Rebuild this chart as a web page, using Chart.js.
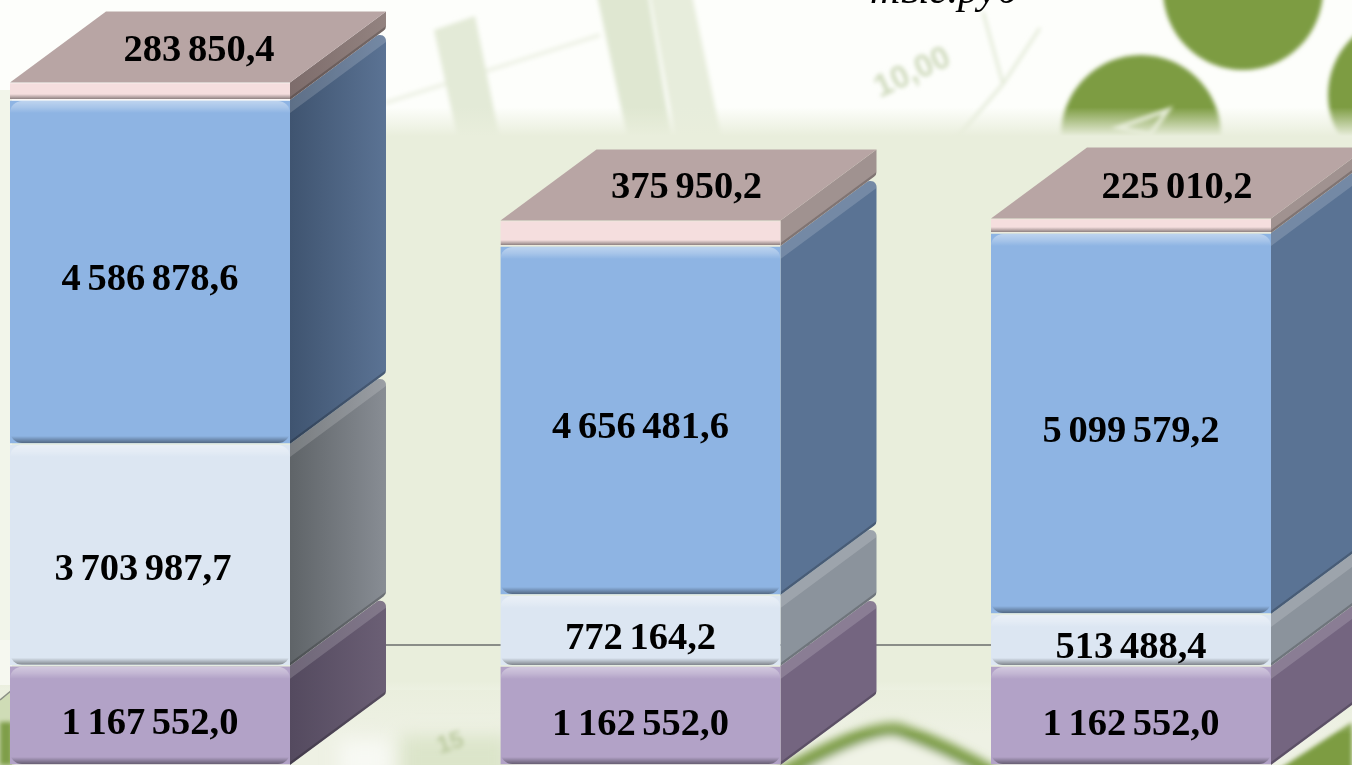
<!DOCTYPE html>
<html>
<head>
<meta charset="utf-8">
<style>
  html, body { margin: 0; padding: 0; width: 1352px; height: 765px; overflow: hidden; background: #fff; }
  #bg { position: absolute; left: 0; top: 0; }
  #chart { position: absolute; left: 0; top: 0; }
</style>
<script src="https://cdn.jsdelivr.net/npm/chart.js@4"></script>
</head>
<body>
<svg id="bg" width="1352" height="765" viewBox="0 0 1352 765">
  <defs>
    <filter id="soft" filterUnits="userSpaceOnUse" x="-50" y="-50" width="1452" height="865"><feGaussianBlur stdDeviation="2"/></filter>
    <filter id="mid" filterUnits="userSpaceOnUse" x="-50" y="-50" width="1452" height="865"><feGaussianBlur stdDeviation="4"/></filter>
    <filter id="softer" filterUnits="userSpaceOnUse" x="-50" y="-50" width="1452" height="865"><feGaussianBlur stdDeviation="9"/></filter>
    <linearGradient id="band" x1="0" y1="0" x2="0" y2="765" gradientUnits="userSpaceOnUse">
      <stop offset="0.14" stop-color="#e9eedc" stop-opacity="0"/>
      <stop offset="0.178" stop-color="#e9eedc"/>
      <stop offset="0.89" stop-color="#e9eedc"/>
      <stop offset="0.96" stop-color="#e9eedc" stop-opacity="0"/>
    </linearGradient>
  </defs>
  <rect width="1352" height="765" fill="#fdfefb"/>
  <!-- top photo -->
  <g filter="url(#soft)">
    <path d="M385 103 L600 35" stroke="#eef2e6" stroke-width="4"/>
    <path d="M434 30 L475 16 L500 140 L458 140 Z" fill="#e3ead7"/>
    <path d="M597 -5 L648 -5 L672 140 L628 140 Z" fill="#dfe7d1"/>
    <path d="M650 -5 L692 -5 L722 140 L676 140 Z" fill="#e7eddc"/>
    <path d="M983 12 L1003 84 M1003 84 L1040 28 M1003 84 L955 140" stroke="#e3ead8" stroke-width="3" fill="none"/>
    <text x="0" y="0" transform="translate(880,98) rotate(-25)" font-family="Liberation Sans" font-weight="bold" font-size="32" fill="#cfdabd">10,00</text>
  </g>
  <g fill="#7d9c42" filter="url(#soft)">
    <circle cx="1243" cy="-10" r="80"/>
    <circle cx="1141" cy="135" r="80"/>
    <circle cx="1408" cy="95" r="80"/>
  </g>
  <path d="M1118 128 L1168 110 L1150 135 Z" fill="none" stroke="#e4ebd6" stroke-width="4" filter="url(#soft)"/>
  <!-- bottom photo -->
  <rect x="0" y="690" width="1352" height="75" fill="#eef1e4"/>
  <rect x="400" y="735" width="110" height="50" fill="#dce5ca" filter="url(#softer)"/>
  <rect x="340" y="740" width="50" height="40" fill="#f8f9f4" filter="url(#softer)"/>
  <path d="M780 775 Q875 722 900 730 Q950 748 995 775" fill="#f0f3e6" stroke="#7f9f48" stroke-width="15" filter="url(#mid)"/>
  <path d="M1270 775 L1352 722 L1352 775 Z" fill="#7d9c42" filter="url(#soft)"/>
  <text x="0" y="0" transform="translate(440,754) rotate(-18)" font-family="Liberation Sans" font-size="24" font-weight="bold" fill="#bccaa0" filter="url(#soft)">15</text>
  <rect x="0" y="0" width="1352" height="765" fill="url(#band)"/>
  <!-- left edge -->
  <rect x="0" y="640" width="12" height="45" fill="#f6f8f0"/>
  <path d="M0 700 L12 690 L12 765 L0 765 Z" fill="#cfdcb6"/>
  <rect x="0" y="722" width="12" height="43" fill="#7f9e48" filter="url(#soft)"/>
  <rect x="0" y="90" width="12" height="550" fill="#f2f5ea"/>
  <path d="M0 700 L12 690" stroke="#8a8f85" stroke-width="1.5"/>
</svg>
<canvas id="chart" width="1352" height="765"></canvas>
<script>
const categories = ["A", "B", "C"];
const seriesBase = [1167552.0, 1162552.0, 1162552.0];
const seriesLight = [3703987.7, 772164.2, 513488.4];
const seriesBlue = [4586878.6, 4656481.6, 5099579.2];
const seriesTop = [283850.4, 375950.2, 225010.2];
const unitLabel = "тыс.руб";

// the source picture is not drawn to a linear axis, so the y axis is piecewise:
// [stack total, pixel row]
const axisKnots = [
  [0, 765], [1162552, 666], [1167552, 665.8], [1676040.6, 614], [1934716.2, 595],
  [4871539.7, 444], [6591197.8, 246], [6775619.8, 233], [6967148, 220.5],
  [7000630, 218.5], [9458418.3, 100], [9742268.7, 82.5], [12000000, 0]
];

class KnottedScale extends Chart.LinearScale {
  getPixelForValue(v) {
    for (let i = 1; i < axisKnots.length; i++) {
      if (v <= axisKnots[i][0]) {
        const a = axisKnots[i - 1], b = axisKnots[i];
        return a[1] + (v - a[0]) / (b[0] - a[0]) * (b[1] - a[1]);
      }
    }
    return 0;
  }
  getValueForPixel(p) {
    for (let i = 1; i < axisKnots.length; i++) {
      if (p >= axisKnots[i][1]) {
        const a = axisKnots[i - 1], b = axisKnots[i];
        return a[0] + (p - a[1]) / (b[1] - a[1]) * (b[0] - a[0]);
      }
    }
    return 12000000;
  }
}
KnottedScale.id = "knotted";
KnottedScale.defaults = Chart.LinearScale.defaults;
Chart.register(KnottedScale);

const depthX = 96;
const depthY = 71;
const corner = 12;
const backCorner = 6;

// side colours, front edge to back edge, per bar
const sideColors = [
  [["#544a5f", "#6b5f75"], ["#746580", "#746580"], ["#746580", "#746580"]],
  [["#5f6468", "#888d94"], ["#8b939c", "#8b939c"], ["#8b939c", "#8b939c"]],
  [["#3f5470", "#5b7394"], ["#5a7394", "#5a7394"], ["#5a7394", "#5a7394"]],
  [["#7d6c6b", "#938380"], ["#a09290", "#a09290"], ["#a09290", "#a09290"]]
];
const labelShift = [
  [[0, 6], [0, 6], [0, 6]],
  [[-7, 12], [0, 5], [0, 5]],
  [[0, 5], [0, 4], [0, 5]],
  [[1, 1], [-2, 0], [-2, 2]]
];

function fmt(v) {
  const parts = v.toFixed(1).split(".");
  return parts[0].replace(/\B(?=(\d{3})+$)/g, " ") + "," + parts[1];
}

function drawSide(ctx, x0, yt, yb, colors, isTop) {
  const x1 = x0 + depthX;
  ctx.save();
  ctx.beginPath();
  ctx.moveTo(x0, yt);
  if (isTop) {
    ctx.lineTo(x1, yt - depthY);
  } else {
    ctx.arcTo(x1, yt - depthY, x1, yb - depthY, backCorner);
  }
  ctx.arcTo(x1, yb - depthY, x0, yb, Math.min(backCorner, (yb - yt) / 2));
  ctx.lineTo(x0, yb);
  ctx.closePath();
  const g = ctx.createLinearGradient(x0, 0, x1, 0);
  g.addColorStop(0, colors[0]);
  g.addColorStop(1, colors[1]);
  ctx.fillStyle = g;
  ctx.fill();
  ctx.clip();
  if (!isTop) {
    // lit strip along the upper edge
    ctx.beginPath();
    ctx.moveTo(x0, yt);
    ctx.lineTo(x1, yt - depthY);
    ctx.lineTo(x1, yt - depthY + 13);
    ctx.lineTo(x0, yt + 13);
    ctx.closePath();
    ctx.fillStyle = "rgba(255,255,255,0.16)";
    ctx.fill();
  }
  ctx.beginPath();
  ctx.moveTo(x0, yb);
  ctx.lineTo(x1, yb - depthY);
  ctx.lineTo(x1, yb - depthY - 3);
  ctx.lineTo(x0, yb - 3);
  ctx.closePath();
  ctx.fillStyle = "rgba(0,0,0,0.2)";
  ctx.fill();
  ctx.restore();
}

const cubePlugin = {
  id: "cube",
  beforeDatasetsDraw(chart) {
    const ctx = chart.ctx;
    // connecting lines behind the columns
    ctx.save();
    ctx.strokeStyle = "#8a8d88";
    ctx.lineWidth = 2;
    ctx.beginPath();
    ctx.moveTo(380, 645);
    ctx.lineTo(1000, 645);
    ctx.stroke();
    ctx.restore();
    chart.data.datasets.forEach((ds, d) => {
      chart.getDatasetMeta(d).data.forEach((bar, i) => {
        const x0 = bar.x + bar.width / 2;
        const isTop = d === chart.data.datasets.length - 1;
        drawSide(ctx, x0, bar.y, bar.base, sideColors[d][i], isTop);
        if (isTop) {
          const xl = bar.x - bar.width / 2;
          ctx.beginPath();
          ctx.moveTo(xl, bar.y);
          ctx.lineTo(x0, bar.y);
          ctx.lineTo(x0 + depthX, bar.y - depthY);
          ctx.lineTo(xl + depthX, bar.y - depthY);
          ctx.closePath();
          ctx.fillStyle = "#b8a5a4";
          ctx.fill();
        }
      });
    });
  },
  afterDatasetsDraw(chart) {
    const ctx = chart.ctx;
    chart.data.datasets.forEach((ds, d) => {
      const isTop = d === chart.data.datasets.length - 1;
      chart.getDatasetMeta(d).data.forEach((bar, i) => {
        // bevel on the front face
        const xl = bar.x - bar.width / 2;
        const top = bar.y + 1, bot = bar.base - 1;
        ctx.save();
        ctx.beginPath();
        ctx.roundRect(xl, top, bar.width, bot - top, isTop ? 0 : corner);
        ctx.clip();
        if (!isTop) {
          const g = ctx.createLinearGradient(0, top, 0, top + 12);
          g.addColorStop(0, "rgba(255,255,255,0.42)");
          g.addColorStop(0.55, "rgba(255,255,255,0.22)");
          g.addColorStop(1, "rgba(255,255,255,0)");
          ctx.fillStyle = g;
          ctx.fillRect(xl, top, bar.width, 12);
        }
        const h = isTop ? 5 : 7;
        const g2 = ctx.createLinearGradient(0, bot - h, 0, bot);
        g2.addColorStop(0, "rgba(0,0,0,0)");
        g2.addColorStop(1, "rgba(0,0,0,0.42)");
        ctx.fillStyle = g2;
        ctx.fillRect(xl, bot - h, bar.width, h);
        ctx.restore();
      });
    });
    // value labels
    ctx.save();
    ctx.font = "bold 38.5px 'Liberation Serif'";
    ctx.wordSpacing = "-3px";
    ctx.fillStyle = "#000";
    ctx.textAlign = "center";
    ctx.textBaseline = "alphabetic";
    chart.data.datasets.forEach((ds, d) => {
      const isTop = d === chart.data.datasets.length - 1;
      chart.getDatasetMeta(d).data.forEach((bar, i) => {
        let x = bar.x, y = (bar.y + bar.base) / 2 + 13;
        if (isTop) {
          x += depthX / 2;
          y = bar.y - depthY / 2 + 13;
        }
        x += labelShift[d][i][0];
        y += labelShift[d][i][1];
        ctx.fillText(fmt(ds.data[i]), x, y);
      });
    });
    ctx.wordSpacing = "0px";
    ctx.font = "italic 42px 'Liberation Serif'";
    ctx.textAlign = "left";
    ctx.fillText(unitLabel, 870, 3);
    ctx.restore();
  }
};

function seg(values, color) {
  return {
    data: values,
    backgroundColor: color,
    borderColor: "rgba(0,0,0,0)",
    borderWidth: { top: 1, bottom: 1, left: 0, right: 0 },
    borderSkipped: false,
    barThickness: 280,
    clip: false
  };
}

new Chart(document.getElementById("chart").getContext("2d"), {
  type: "bar",
  data: {
    labels: categories,
    datasets: [
      Object.assign(seg(seriesBase, "#b2a2c7"), { borderRadius: corner }),
      Object.assign(seg(seriesLight, "#dce6f2"), { borderRadius: corner }),
      Object.assign(seg(seriesBlue, "#8eb4e3"), { borderRadius: corner }),
      seg(seriesTop, "#f5dede")
    ]
  },
  options: {
    responsive: false,
    animation: false,
    layout: { padding: { left: 150, right: 221, top: 0, bottom: 0 } },
    plugins: { legend: { display: false }, tooltip: { enabled: false } },
    scales: {
      x: { stacked: true, display: false, offset: false, grid: { display: false } },
      y: { type: "knotted", stacked: true, display: false, min: 0, max: 12000000, grid: { display: false } }
    }
  },
  plugins: [cubePlugin]
});
</script>
</body>
</html>
